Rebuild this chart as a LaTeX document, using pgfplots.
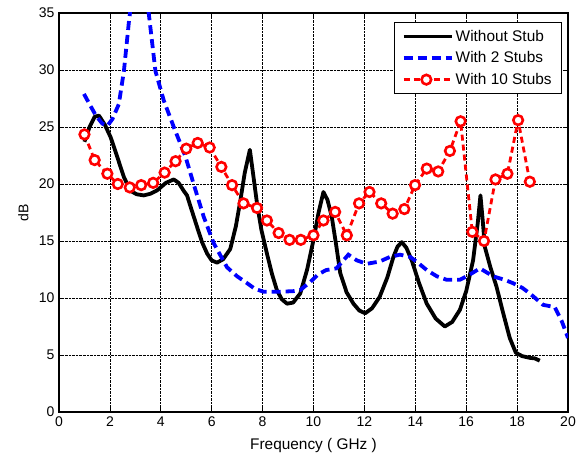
\documentclass[border=0pt]{standalone}
\usepackage{fontspec}
\setmainfont{Liberation Sans}
\usepackage{pgfplots}
\pgfplotsset{compat=1.18}
\begin{document}
\fontsize{13bp}{15bp}\selectfont
\begin{tikzpicture}
\begin{axis}[
  scale only axis,
  width=509bp, height=399bp,
  xmin=0, xmax=20, ymin=0, ymax=35,
  xtick={0,2,...,20}, ytick={0,5,...,35},
  grid=major,
  major grid style={black, densely dotted, line width=0.7pt},
  axis line style={black, line width=1.1pt},
  tick style={black, line width=0.7pt},
  major tick length=5bp,
  /pgf/number format/assume math mode=true,
  tick label style={font=\fontsize{14bp}{16bp}\selectfont},
  label style={font=\fontsize{15.4bp}{18bp}\selectfont},
  xlabel={Frequency ( GHz )},
  ylabel={dB},
  xlabel style={yshift=-3bp},
  ylabel style={yshift=1.5bp, font=\fontsize{14bp}{16bp}\selectfont},
  legend style={at={(1,1)}, anchor=north east, xshift=-6bp, yshift=-9.5bp,
    draw=black, line width=0.8pt, font=\fontsize{15.4bp}{18bp}\selectfont,
    row sep=4.5bp, inner xsep=8bp, inner ysep=5bp},
  legend cell align=left,
  legend image code/.code={\path (0bp,0bp) -- (48bp,0bp); \draw[#1] (0bp,0bp) -- (45bp,0bp); \draw[#1,only marks] plot coordinates {(22.5bp,0bp)};},
]
\addplot[black, line width=3.8bp, no markers, line join=round] coordinates {
(1.0,23.7)(1.2,25.0)(1.4,25.9)(1.57,26.0)(1.8,25.2)(2.03,24.1)(2.3,22.3)(2.55,20.6)(2.81,19.4)(3.05,19.1)(3.33,19.0)(3.6,19.15)(3.86,19.45)(4.2,20.1)(4.51,20.4)(4.7,20.1)(4.9,19.4)(5.03,19.0)(5.2,17.8)(5.43,16.2)(5.62,14.9)(5.82,13.9)(6.0,13.3)(6.21,13.1)(6.45,13.4)(6.73,14.3)(6.95,16.3)(7.13,18.6)(7.3,21.0)(7.5,23.0)(7.62,21.0)(7.78,18.3)(7.95,16.0)(8.17,13.9)(8.37,12.1)(8.56,10.7)(8.75,9.9)(8.96,9.5)(9.2,9.6)(9.48,10.4)(9.75,12.5)(10.0,15.1)(10.2,17.5)(10.39,19.3)(10.55,18.6)(10.72,17.1)(10.9,14.5)(11.05,12.2)(11.3,10.5)(11.57,9.5)(11.8,8.9)(12.03,8.66)(12.3,9.1)(12.6,10.1)(12.9,11.8)(13.14,13.6)(13.3,14.5)(13.47,14.9)(13.65,14.4)(13.86,13.3)(14.15,11.3)(14.45,9.5)(14.8,8.2)(15.16,7.5)(15.45,7.9)(15.75,8.95)(16.0,10.6)(16.27,13.3)(16.45,16.5)(16.56,19.0)(16.65,16.8)(16.73,14.5)(16.95,12.7)(17.19,11.0)(17.45,8.7)(17.71,6.5)(17.95,5.2)(18.2,4.9)(18.5,4.75)(18.7,4.7)(18.89,4.5)
};
\addlegendentry{Without Stub}
\addplot[blue, line width=3.8bp, dash pattern=on 9bp off 5bp, no markers] coordinates {
(0.98,27.9)(1.2,27.0)(1.45,26.0)(1.7,25.3)(1.9,25.1)(2.1,25.7)(2.35,27.0)(2.55,29.9)(2.75,34.3)(2.9,37)(3.2,38.5)(3.45,36.5)(3.53,34.9)(3.79,29.9)(4.12,27.3)(4.51,25.0)(4.97,22.4)(5.29,20.0)(5.69,17.1)(6.08,14.8)(6.6,12.7)(7.0,11.9)(7.39,11.3)(7.7,10.8)(8.04,10.55)(8.69,10.55)(9.2,10.6)(9.48,10.7)(9.87,11.4)(10.2,12.1)(10.5,12.45)(10.9,12.6)(11.37,13.8)(11.7,13.3)(12.09,13.0)(12.6,13.2)(13.0,13.6)(13.4,13.8)(13.8,13.6)(14.1,13.1)(14.45,12.45)(14.85,11.9)(15.23,11.6)(15.75,11.6)(16.1,12.0)(16.54,12.6)(17.06,11.9)(17.5,11.6)(17.84,11.3)(18.2,10.9)(18.5,10.4)(19.02,9.4)(19.48,9.2)(19.75,8.0)(20.0,6.5)
};
\addlegendentry{With 2 Stubs}
\addplot[red, line width=2.8bp, dash pattern=on 6bp off 4bp, mark=*, mark size=4.8bp,
  mark options={solid, draw=red, fill=white, line width=2.6bp}] coordinates {
(1.0,24.35)(1.4,22.1)(1.9,20.9)(2.31,20.0)(2.78,19.7)(3.23,19.9)(3.7,20.1)(4.15,21.0)(4.58,22.0)(5.0,23.1)(5.45,23.6)(5.92,23.2)(6.38,21.5)(6.8,19.9)(7.25,18.3)(7.78,17.9)(8.17,16.8)(8.63,15.7)(9.06,15.1)(9.5,15.1)(10.0,15.5)(10.39,16.8)(10.85,17.55)(11.31,15.5)(11.79,18.3)(12.2,19.3)(12.66,18.3)(13.11,17.4)(13.57,17.8)(13.99,19.9)(14.45,21.35)(14.9,21.1)(15.36,22.9)(15.78,25.5)(16.24,15.8)(16.7,15.0)(17.15,20.4)(17.62,20.9)(18.04,25.6)(18.5,20.2)
};
\addlegendentry{With 10 Stubs}
\end{axis}
\pgfresetboundingbox
\path (current axis.south west) -- ++(-59bp,-44bp);
\path (current axis.north east) -- ++(14bp,13bp);
\end{tikzpicture}
\end{document}
